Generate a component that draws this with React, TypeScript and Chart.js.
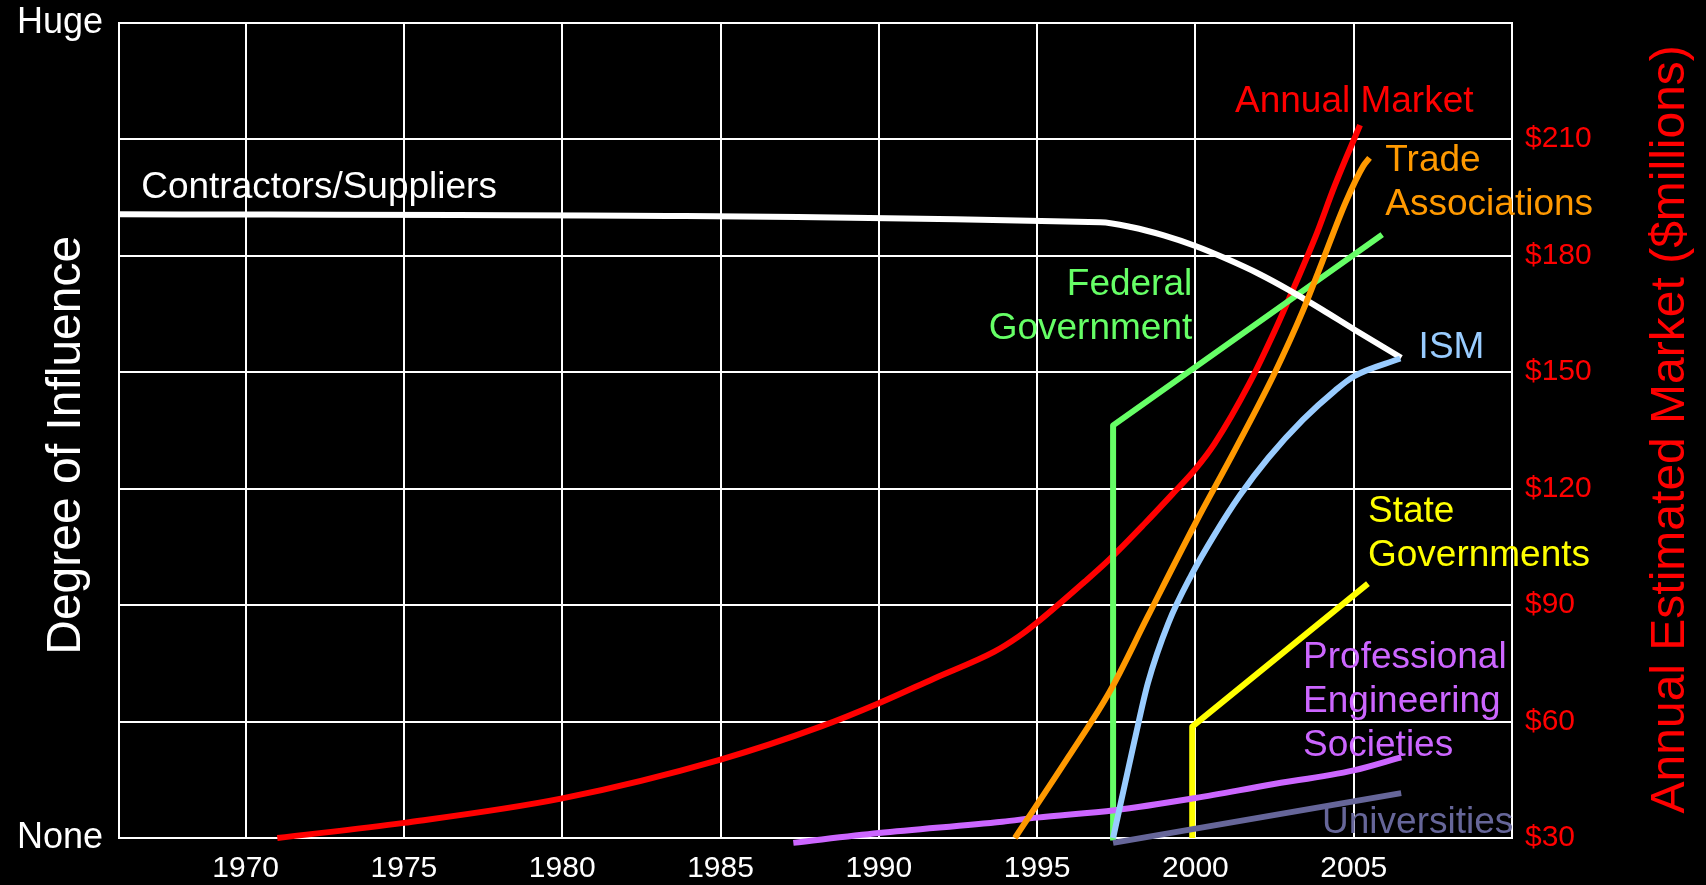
import { useEffect, useRef } from "react";
import { Chart, registerables } from "chart.js";

Chart.register(...registerables);

const FONT = '"Liberation Sans", Arial, Helvetica, sans-serif';

// ---- axes ----
const yearMin = 1966;
const yearMax = 2010;
const yearTicks = [1970, 1975, 1980, 1985, 1990, 1995, 2000, 2005];
const marketMin = 30;
const marketMax = 240;
const marketStep = 30;
const influenceTickLabels = ["None", "Huge"]; // 0 and 100

// ---- Annual Market ($ millions, right axis) ----
const marketYears = [1971, 1975, 1980, 1985, 1988.2, 1990, 1991.75, 1993.65, 1994.4, 1995, 1996.5, 1997.3, 1998.4, 1999.3, 2000, 2000.6, 2001.7, 2002.5, 2003.15, 2003.8, 2004.4, 2005.2];
const marketValues = [30, 33.9, 40.2, 50.2, 58.8, 64.7, 71.1, 78.0, 81.8, 85.5, 96.0, 101.9, 111.0, 118.8, 125.0, 131.5, 147.0, 160.5, 172.5, 185.0, 198.0, 213.6];

// ---- Degree of influence (0 = None, 100 = Huge) ----
const contractorsYears = [1966, 1997, 1998, 1999, 2000, 2001, 2002, 2003, 2004, 2005, 2006.5];
const contractorsValues = [76.5, 75.5, 74.9, 73.9, 72.6, 71.0, 69.2, 67.1, 64.8, 62.4, 58.9];

const tradeYears = [1994.3, 1996, 1997.3, 1998.5, 2000, 2001.25, 2002.5, 2003.4, 2004, 2004.75, 2005.3, 2005.5];
const tradeValues = [0, 10.0, 18.0, 27.2, 38.6, 47.6, 57.0, 64.7, 70.6, 78.0, 82.4, 83.4];

const federalYears = [1997.4, 1997.4, 2005.9];
const federalValues = [-0.3, 50.6, 74.0];

const ismYears = [1997.4, 1998.08, 1998.5, 1999.14, 1999.88, 2000.62, 2001.4, 2002.3, 2003.4, 2004.42, 2005, 2006.47];
const ismValues = [0, 12.0, 19.0, 26.3, 32.3, 37.3, 42.0, 46.6, 51.3, 54.9, 56.6, 58.8];

const stateYears = [1999.9, 1999.9, 2005.45];
const stateValues = [0, 13.65, 31.2];

const professionalYears = [1987.3, 1990, 1993.9, 1995, 1997.45, 2000, 2002.3, 2005, 2006.5];
const professionalValues = [-0.6, 0.6, 2.0, 2.5, 3.4, 4.9, 6.5, 8.3, 9.9];

const universitiesYears = [1997.4, 2006.5];
const universitiesValues = [-0.6, 5.5];

// ---- text annotations (anchored in year / $ units) ----
const annotations = [
  { lines: ["Contractors/Suppliers"], year: 1966.7, value: 194.75, align: "left", color: "#ffffff" },
  { lines: ["Annual Market"], year: 2001.25, value: 216.9, align: "left", color: "#ff0000" },
  { lines: ["Trade", "Associations"], year: 2006.0, value: 201.9, align: "left", color: "#ff9900" },
  { lines: ["Federal", "Government"], year: 1999.9, value: 169.8, align: "right", color: "#66ff66" },
  { lines: ["ISM"], year: 2007.05, value: 153.5, align: "left", color: "#99ccff" },
  { lines: ["State", "Governments"], year: 2005.45, value: 111.5, align: "left", color: "#ffff00" },
  { lines: ["Professional", "Engineering", "Societies"], year: 2003.4, value: 73.7, align: "left", color: "#cc66ff" },
  { lines: ["Universities"], year: 2004.0, value: 31.2, align: "left", color: "#666699" },
];

const zip = (xs: number[], ys: number[]) => xs.map((x, i) => ({ x, y: ys[i] }));

const overlayPlugin = {
  id: "overlay",
  afterDraw(chart: any) {
    const { ctx, chartArea, scales } = chart;
    const xs = scales.x;
    const ys = scales.y2;
    ctx.save();
    ctx.font = `37px ${FONT}`;
    ctx.textBaseline = "alphabetic";
    for (const a of annotations) {
      ctx.fillStyle = a.color;
      ctx.textAlign = a.align as CanvasTextAlign;
      const px = xs.getPixelForValue(a.year);
      const py = ys.getPixelForValue(a.value);
      a.lines.forEach((t, i) => ctx.fillText(t, px, py + i * 44));
    }
    const midY = (chartArea.top + chartArea.bottom) / 2;
    ctx.font = `48px ${FONT}`;
    ctx.textAlign = "center";
    // left title
    ctx.save();
    ctx.translate(chartArea.left - 39, midY + 15);
    ctx.rotate(-Math.PI / 2);
    ctx.fillStyle = "#ffffff";
    ctx.fillText("Degree of Influence", 0, 0);
    ctx.restore();
    // right title
    ctx.save();
    ctx.translate(chartArea.right + 172, midY - 1);
    ctx.rotate(-Math.PI / 2);
    ctx.fillStyle = "#ff0000";
    ctx.fillText("Annual Estimated Market ($millions)", 0, 0);
    ctx.restore();
    ctx.restore();
  },
};

const noPad = (s: any) => {
  s.paddingTop = 0;
  s.paddingBottom = 0;
  s.paddingLeft = 0;
  s.paddingRight = 0;
};

export default function App() {
  const ref = useRef<HTMLCanvasElement | null>(null);

  useEffect(() => {
    if (!ref.current) return;
    const line = (data: any, color: string, axis: string, tension: number) => ({
      data,
      borderColor: color,
      backgroundColor: color,
      yAxisID: axis,
      borderWidth: 6,
      pointRadius: 0,
      tension,
      cubicInterpolationMode: tension > 0 ? "monotone" : "default",
      clip: false,
      fill: false,
    });
    const chart = new Chart(ref.current, {
      type: "line",
      data: {
        datasets: [
          line(zip(tradeYears, tradeValues), "#ff9900", "y", 0.4),
          line(zip(ismYears, ismValues), "#99ccff", "y", 0.4),
          line(zip(contractorsYears, contractorsValues), "#ffffff", "y", 0.4),
          line(zip(professionalYears, professionalValues), "#cc66ff", "y", 0.4),
          line(zip(universitiesYears, universitiesValues), "#666699", "y", 0),
          line(zip(stateYears, stateValues), "#ffff00", "y", 0),
          line(zip(federalYears, federalValues), "#66ff66", "y", 0),
          line(zip(marketYears, marketValues), "#ff0000", "y2", 0.4),
        ] as any,
      },
      options: {
        responsive: false,
        animation: false,
        events: [],
        layout: { padding: { top: 22.6, left: 0, right: 0, bottom: 0 } },
        plugins: { legend: { display: false }, tooltip: { enabled: false } },
        elements: { line: { borderJoinStyle: "round" } },
        scales: {
          x: {
            type: "linear",
            min: yearMin,
            max: yearMax,
            afterBuildTicks: (s: any) => {
              s.ticks = [yearMin, ...yearTicks, yearMax].map((v) => ({ value: v }));
            },
            ticks: {
              autoSkip: false,
              maxRotation: 0,
              padding: 13,
              color: "#ffffff",
              font: { family: FONT, size: 30 },
              callback: (v: any) => (yearTicks.includes(v) ? String(v) : ""),
            },
            grid: { color: "#ffffff", lineWidth: 2, drawTicks: false },
            border: { color: "#ffffff", width: 2 },
            afterFit: (s: any) => {
              s.height = 47;
              noPad(s);
            },
          },
          y: {
            type: "linear",
            position: "left",
            min: 0,
            max: 100,
            afterBuildTicks: (s: any) => {
              s.ticks = [{ value: 0 }, { value: 100 }];
            },
            ticks: {
              padding: 16,
              color: "#ffffff",
              font: { family: FONT, size: 36 },
              callback: (v: any) => (v === 100 ? influenceTickLabels[1] : v === 0 ? influenceTickLabels[0] : ""),
            },
            grid: { display: false, drawTicks: false },
            border: { color: "#ffffff", width: 2 },
            afterFit: (s: any) => {
              s.width = 119;
              noPad(s);
            },
          },
          y2: {
            type: "linear",
            position: "right",
            min: marketMin,
            max: marketMax,
            ticks: {
              stepSize: marketStep,
              padding: 13,
              color: "#ff0000",
              font: { family: FONT, size: 30 },
              callback: (v: any) => (v >= marketMax ? "" : "$" + v),
            },
            grid: { color: "#ffffff", lineWidth: 2, drawTicks: false },
            border: { color: "#ffffff", width: 2 },
            afterFit: (s: any) => {
              s.width = 194;
              noPad(s);
            },
          },
        },
      } as any,
      plugins: [overlayPlugin],
    });
    return () => chart.destroy();
  }, []);

  return (
    <div style={{ position: "fixed", left: 0, top: 0, width: 1706, height: 885, background: "#000" }}>
      <canvas ref={ref} width={1706} height={885} style={{ display: "block", background: "#000" }} />
    </div>
  );
}
